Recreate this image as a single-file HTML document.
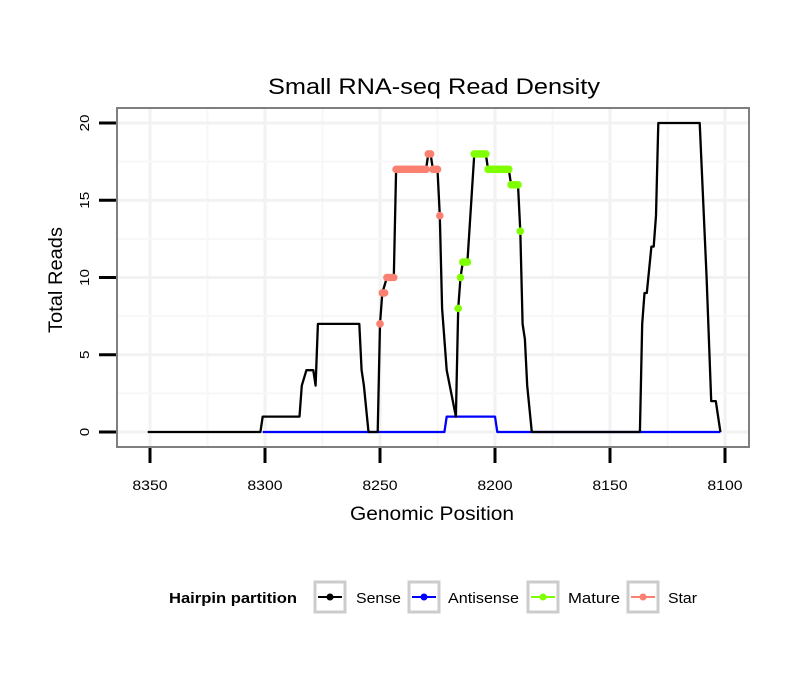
<!DOCTYPE html>
<html><head><meta charset="utf-8"><style>
body{margin:0;background:#fff;}
svg text{font-family:"Liberation Sans",sans-serif;}
</style></head><body>
<svg id="chart" width="810" height="690" xmlns="http://www.w3.org/2000/svg">
<rect width="810" height="690" fill="#fff"/>
<text x="434" y="94" font-size="22" text-anchor="middle" textLength="332" lengthAdjust="spacingAndGlyphs">Small RNA-seq Read Density</text>
<g id="grid"></g>
<g id="series"></g>
<rect x="117" y="108" width="632" height="339" fill="none" stroke="#7f7f7f" stroke-width="2"/>
<g id="axes"></g>
<text x="432" y="520" font-size="19" text-anchor="middle" textLength="164" lengthAdjust="spacingAndGlyphs">Genomic Position</text>
<text transform="translate(62,280) rotate(-90)" font-size="19" text-anchor="middle" textLength="106" lengthAdjust="spacingAndGlyphs">Total Reads</text>
<g>
<text x="169" y="603" font-size="15" font-weight="bold" textLength="128" lengthAdjust="spacingAndGlyphs">Hairpin partition</text>
<g><rect x="315" y="582" width="30" height="30" fill="#fff" stroke="#ccc" stroke-width="3"/><line x1="318" y1="597" x2="342" y2="597" stroke="#000" stroke-width="2"/><circle cx="330" cy="597" r="3.5" fill="#000"/><text x="356" y="603" font-size="15" textLength="45" lengthAdjust="spacingAndGlyphs">Sense</text></g>
<g><rect x="409" y="582" width="30" height="30" fill="#fff" stroke="#ccc" stroke-width="3"/><line x1="412" y1="597" x2="436" y2="597" stroke="#0000ff" stroke-width="2"/><circle cx="424" cy="597" r="3.5" fill="#0000ff"/><text x="448" y="603" font-size="15" textLength="71" lengthAdjust="spacingAndGlyphs">Antisense</text></g>
<g><rect x="528" y="582" width="30" height="30" fill="#fff" stroke="#ccc" stroke-width="3"/><line x1="531" y1="597" x2="555" y2="597" stroke="#7fff00" stroke-width="2"/><circle cx="543" cy="597" r="3.5" fill="#7fff00"/><text x="568" y="603" font-size="15" textLength="52" lengthAdjust="spacingAndGlyphs">Mature</text></g>
<g><rect x="628" y="582" width="30" height="30" fill="#fff" stroke="#ccc" stroke-width="3"/><line x1="631" y1="597" x2="655" y2="597" stroke="#fa8072" stroke-width="2"/><circle cx="643" cy="597" r="3.5" fill="#fa8072"/><text x="668" y="603" font-size="15" textLength="29" lengthAdjust="spacingAndGlyphs">Star</text></g>
</g>
</svg>
<script>
const xTicks = [8350, 8300, 8250, 8200, 8150, 8100];
const yTicks = [0, 5, 10, 15, 20];
const sensePos = [8351,8302,8301,8285,8284,8282,8279,8278,8277,8259,8258,8257,8255,8251,8250,8249,8247,8244,8243,8230,8229,8228,8227,8225,8224,8223,8221,8217,8216,8215,8214,8212,8209,8204,8203,8194,8193,8190,8189,8188,8187,8186,8184,8137,8136,8135,8134,8132,8131,8130,8129,8111,8108,8106,8104,8102];
const senseVals = [0,0,1,1,3,4,4,3,7,7,4,3,0,0,7,9,10,10,17,17,18,18,17,17,14,8,4,1,8,10,11,11,18,18,17,17,16,16,13,7,6,3,0,0,7,9,9,12,12,14,20,20,10,2,2,0];
const antiPos = [8301,8222,8221,8200,8199,8102];
const antiVals = [0,0,1,1,0,0];
const starPos = [8250,8249,8248,8247,8246,8245,8244,8243,8242,8241,8240,8239,8238,8237,8236,8235,8234,8233,8232,8231,8230,8229,8228,8227,8226,8225,8224];
const starVals = [7,9,9,10,10,10,10,17,17,17,17,17,17,17,17,17,17,17,17,17,17,18,18,17,17,17,14];
const maturePos = [8216,8215,8214,8213,8212,8209,8208,8207,8206,8205,8204,8203,8202,8201,8200,8199,8198,8197,8196,8195,8194,8193,8192,8191,8190,8189];
const matureVals = [8,10,11,11,11,18,18,18,18,18,18,17,17,17,17,17,17,17,17,17,17,16,16,16,16,13];

const NS = "http://www.w3.org/2000/svg";
const xS = p => 150 + (8350 - p) * 2.3;
const yS = v => 432 - v * 15.45;
function mk(tag, attrs, parent){const e=document.createElementNS(NS,tag);for(const k in attrs)e.setAttribute(k,attrs[k]);parent.appendChild(e);return e;}
const grid=document.getElementById('grid'), series=document.getElementById('series'), axes=document.getElementById('axes');

for(let i=0;i<xTicks.length;i++){
  const x=xS(xTicks[i]);
  const g=mk('line',{x1:x,x2:x,y1:108,y2:447,stroke:'#f2f2f2','stroke-width':3},grid);
  
  
  if(i<xTicks.length-1){const xm=xS((xTicks[i]+xTicks[i+1])/2);
    const m=mk('line',{x1:xm,x2:xm,y1:108,y2:447,stroke:'#f7f7f7','stroke-width':2},grid);
    
    }
  const t=mk('line',{x1:x,x2:x,y1:448,y2:463,stroke:'#000','stroke-width':3},axes);
  
  
  const s=String(xTicks[i]);
  const l=mk('text',{x:x,y:490,'font-size':14,'text-anchor':'middle',textLength:s.length*8.8,lengthAdjust:'spacingAndGlyphs'},axes);l.textContent=s;
  
  
}
for(let i=0;i<yTicks.length;i++){
  const y=yS(yTicks[i]);
  const g=mk('line',{x1:117,x2:749,y1:y,y2:y,stroke:'#f2f2f2','stroke-width':3},grid);
  
  
  if(i<yTicks.length-1){const ym=yS((yTicks[i]+yTicks[i+1])/2);
    const m=mk('line',{x1:117,x2:749,y1:ym,y2:ym,stroke:'#f7f7f7','stroke-width':2},grid);
    
    }
  const t=mk('line',{x1:99,x2:116,y1:y,y2:y,stroke:'#000','stroke-width':3},axes);
  
  
  const s=String(yTicks[i]);
  const l=mk('text',{transform:`translate(89,${y}) rotate(-90)`,'font-size':13,'text-anchor':'middle',textLength:s.length*8.5,lengthAdjust:'spacingAndGlyphs'},axes);l.textContent=s;
  
  
}
function line(pos,vals,color,name){
  const d=pos.map((p,i)=>(i?'L':'M')+xS(p).toFixed(1)+','+yS(vals[i]).toFixed(1)).join(' ');
  const e=mk('path',{d:d,fill:'none',stroke:color,'stroke-width':2.3,'stroke-linejoin':'round'},series);
  
  
}
function dots(pos,vals,color,name){
  pos.forEach((p,i)=>{const c=mk('circle',{cx:xS(p),cy:yS(vals[i]),r:3.8,fill:color},series);
    
    });
}
line(antiPos,antiVals,'#0000ff','antisense-line');
line(sensePos,senseVals,'#000000','sense-line');
dots(starPos,starVals,'#fa8072','star-point');
dots(maturePos,matureVals,'#7fff00','mature-point');
</script>
</body></html>
